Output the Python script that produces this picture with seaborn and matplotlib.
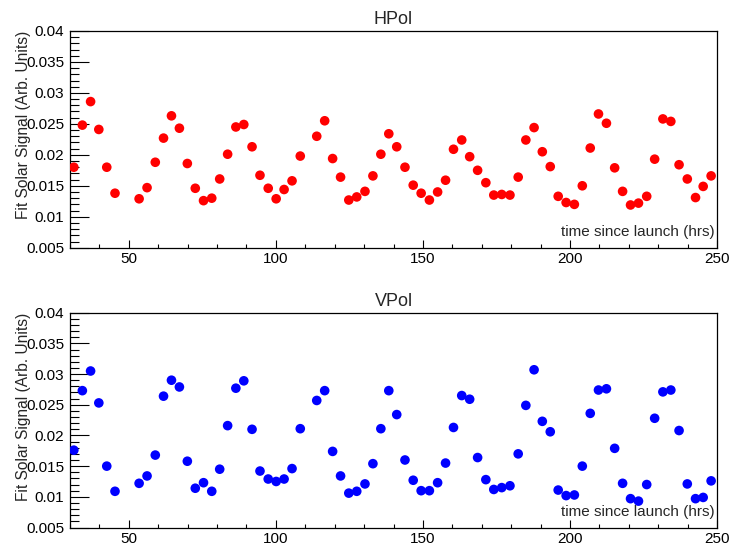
import matplotlib
matplotlib.use("Agg")
import matplotlib.pyplot as plt
import seaborn as sns
import pandas as pd
from matplotlib.ticker import MultipleLocator

sns.set_style("ticks")
plt.rcParams['font.family'] = ['Liberation Sans', 'DejaVu Sans']

hours = [31.3, 34.2, 37.0, 39.8, 42.5, 45.3, 53.5, 56.2, 59.0, 61.8, 64.5, 67.2, 69.9,
         72.6, 75.4, 78.2, 80.9, 83.6, 86.4, 89.1, 91.9, 94.6, 97.4, 100.1, 102.8, 105.5,
         108.3, 113.9, 116.6, 119.3, 122.0, 124.8, 127.5, 130.3, 133.0, 135.7, 138.4,
         141.1, 143.9, 146.7, 149.4, 152.2, 155.0, 157.7, 160.4, 163.2, 165.9, 168.6,
         171.4, 174.1, 176.8, 179.6, 182.4, 185.0, 187.8, 190.6, 193.3, 196.0, 198.7,
         201.5, 204.2, 206.9, 209.7, 212.4, 215.2, 217.9, 220.6, 223.3, 226.1, 228.8,
         231.6, 234.3, 237.1, 239.9, 242.7, 245.3, 248.0]

hpol = [0.0180, 0.0248, 0.0286, 0.0241, 0.0180, 0.0138, 0.0129, 0.0147, 0.0188, 0.0227,
        0.0263, 0.0243, 0.0186, 0.0146, 0.0126, 0.0130, 0.0161, 0.0201, 0.0245, 0.0249,
        0.0213, 0.0167, 0.0146, 0.0129, 0.0144, 0.0158, 0.0198, 0.0230, 0.0255, 0.0194,
        0.0164, 0.0127, 0.0132, 0.0141, 0.0166, 0.0201, 0.0234, 0.0213, 0.0180, 0.0151,
        0.0138, 0.0127, 0.0140, 0.0159, 0.0209, 0.0224, 0.0197, 0.0175, 0.0155, 0.0135,
        0.0136, 0.0135, 0.0164, 0.0224, 0.0244, 0.0205, 0.0181, 0.0133, 0.0123, 0.0120,
        0.0150, 0.0211, 0.0266, 0.0251, 0.0179, 0.0141, 0.0119, 0.0122, 0.0133, 0.0193,
        0.0258, 0.0254, 0.0184, 0.0161, 0.0131, 0.0149, 0.0166]

vpol = [0.0176, 0.0273, 0.0305, 0.0253, 0.0150, 0.0109, 0.0122, 0.0134, 0.0168, 0.0264,
        0.0290, 0.0279, 0.0158, 0.0114, 0.0123, 0.0109, 0.0145, 0.0216, 0.0277, 0.0289,
        0.0210, 0.0142, 0.0129, 0.0125, 0.0129, 0.0146, 0.0211, 0.0257, 0.0273, 0.0174,
        0.0134, 0.0106, 0.0109, 0.0121, 0.0154, 0.0211, 0.0273, 0.0234, 0.0160, 0.0127,
        0.0110, 0.0110, 0.0123, 0.0155, 0.0213, 0.0265, 0.0259, 0.0164, 0.0128, 0.0112,
        0.0115, 0.0118, 0.0170, 0.0249, 0.0307, 0.0223, 0.0206, 0.0111, 0.0102, 0.0103,
        0.0150, 0.0236, 0.0274, 0.0276, 0.0179, 0.0122, 0.0097, 0.0093, 0.0120, 0.0228,
        0.0271, 0.0274, 0.0208, 0.0121, 0.0097, 0.0099, 0.0126]

titles = ["HPol", "VPol"]
colors = ["#ff0000", "#0000ff"]
series = [hpol, vpol]

W, H = 731, 547
fig = plt.figure(figsize=(W / 100, H / 100), dpi=100)
fig.patch.set_facecolor("white")

# axes boxes in pixels: (left, top, right, bottom)
boxes = [(70, 31, 717, 247.7), (70, 312.7, 717, 527.5)]

for box, title, col, vals in zip(boxes, titles, colors, series):
    l, t, r, b = box
    ax = fig.add_axes([l / W, (H - b) / H, (r - l) / W, (b - t) / H])
    df = pd.DataFrame({"hours": hours, "signal": vals})
    sns.scatterplot(data=df, x="hours", y="signal", ax=ax, color=col,
                    s=48, linewidth=0, edgecolor="none", clip_on=True, zorder=3)
    ax.set_xlim(30, 250)
    ax.set_ylim(0.005, 0.04)
    ax.xaxis.set_major_locator(MultipleLocator(50))
    ax.xaxis.set_minor_locator(MultipleLocator(10))
    ax.yaxis.set_major_locator(MultipleLocator(0.005))
    ax.yaxis.set_minor_locator(MultipleLocator(0.001))
    ax.set_yticks([0.005, 0.01, 0.015, 0.02, 0.025, 0.03, 0.035, 0.04])
    ax.set_yticklabels(["0.005", "0.01", "0.015", "0.02", "0.025", "0.03", "0.035", "0.04"])
    ax.set_xticks([50, 100, 150, 200, 250])
    ax.set_xticklabels(["50", "100", "150", "200", "250"])
    ax.tick_params(axis="y", which="major", direction="in", length=13.7, width=0.8,
                   labelsize=11, pad=4, color="black", labelcolor="black")
    ax.tick_params(axis="y", which="minor", direction="in", length=6.8, width=0.8, color="black")
    ax.tick_params(axis="x", which="major", direction="in", length=5.5, width=0.8,
                   labelsize=11, pad=3, color="black", labelcolor="black")
    ax.tick_params(axis="x", which="minor", direction="in", length=2.8, width=0.8, color="black")
    for sp in ax.spines.values():
        sp.set_visible(True)
        sp.set_linewidth(0.9)
        sp.set_color("black")
    ax.set_title(title, fontsize=13, pad=5)
    ax.set_xlabel("")
    ax.set_ylabel("Fit Solar Signal (Arb. Units)", fontsize=11.2, loc="top")
    ax.yaxis.set_label_coords(-0.06, 1.0)
    ax.text(0.997, 0.052, "time since launch (hrs)", transform=ax.transAxes,
            ha="right", va="baseline", fontsize=11)

fig.savefig("out.png", dpi=100, facecolor="white")
